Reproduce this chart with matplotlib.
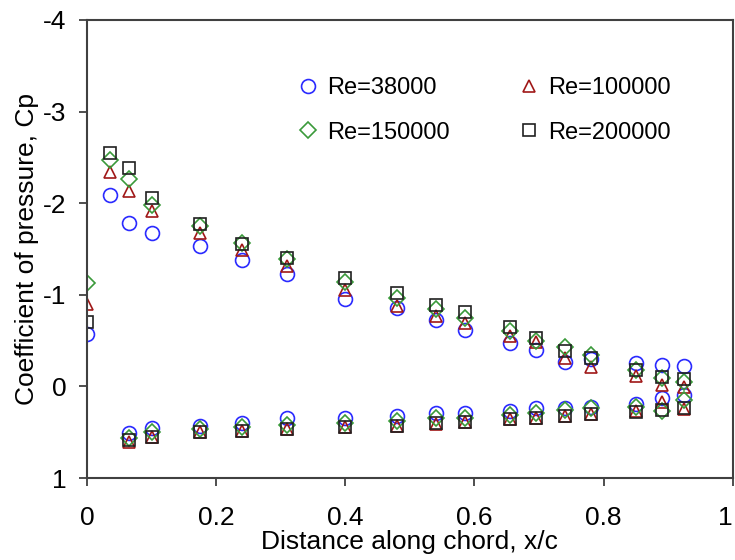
import matplotlib
matplotlib.use('Agg')
import matplotlib.pyplot as plt

plt.rcParams['font.family'] = ['Liberation Sans', 'DejaVu Sans']
plt.rcParams['axes.unicode_minus'] = False

# chordwise stations (upper surface includes the leading edge point)
x_upper = [0, 0.035, 0.065, 0.1, 0.175, 0.24, 0.31, 0.4, 0.48, 0.54, 0.585,
           0.655, 0.695, 0.74, 0.78, 0.85, 0.89, 0.925]
x_lower = [0.065, 0.1, 0.175, 0.24, 0.31, 0.4, 0.48, 0.54, 0.585,
           0.655, 0.695, 0.74, 0.78, 0.85, 0.89, 0.925]

# Re = 38000
cp38_up = [-0.57, -2.09, -1.78, -1.67, -1.53, -1.38, -1.23, -0.95, -0.86, -0.72, -0.62,
           -0.47, -0.40, -0.27, -0.30, -0.26, -0.23, -0.22]
cp38_lo = [0.51, 0.45, 0.43, 0.40, 0.35, 0.34, 0.32, 0.29, 0.29, 0.27, 0.24, 0.24,
           0.22, 0.19, 0.13, 0.09]
# Re = 100000
cp100_up = [-0.90, -2.34, -2.13, -1.92, -1.67, -1.49, -1.31, -1.05, -0.88, -0.77, -0.69,
            -0.55, -0.48, -0.31, -0.21, -0.11, -0.02, 0.01]
cp100_lo = [0.61, 0.55, 0.50, 0.49, 0.46, 0.44, 0.43, 0.41, 0.39, 0.36, 0.34, 0.32,
            0.30, 0.27, 0.17, 0.25]
# Re = 150000
cp150_up = [-1.13, -2.47, -2.26, -1.98, -1.75, -1.57, -1.39, -1.14, -0.96, -0.84, -0.75,
            -0.60, -0.50, -0.43, -0.34, -0.18, -0.09, -0.05]
cp150_lo = [0.56, 0.50, 0.47, 0.44, 0.42, 0.40, 0.38, 0.35, 0.34, 0.31, 0.29, 0.26,
            0.24, 0.22, 0.27, 0.15]
# Re = 200000
cp200_up = [-0.70, -2.55, -2.38, -2.06, -1.77, -1.55, -1.40, -1.18, -1.02, -0.89, -0.81,
            -0.65, -0.53, -0.39, -0.31, -0.18, -0.10, -0.08]
cp200_lo = [0.59, 0.55, 0.50, 0.49, 0.46, 0.44, 0.43, 0.40, 0.39, 0.36, 0.34, 0.32,
            0.30, 0.28, 0.26, 0.24]

x_ticks = [0, 0.2, 0.4, 0.6, 0.8, 1]
x_ticklabels = ['0', '0.2', '0.4', '0.6', '0.8', '1']
y_ticks = [-4, -3, -2, -1, 0, 1]

series = [
    ('Re=38000', cp38_up, cp38_lo, 'o', 10, '#2a2aff'),
    ('Re=100000', cp100_up, cp100_lo, '^', 9, '#a01818'),
    ('Re=150000', cp150_up, cp150_lo, 'D', 8, '#3a9a3a'),
    ('Re=200000', cp200_up, cp200_lo, 's', 8.5, '#202020'),
]

fig = plt.figure(figsize=(7.35, 5.6), dpi=100)
ax = fig.add_axes([0.1184, 0.1464, 0.8786, 0.8179])

handles = {}
for name, up, lo, mk, ms, col in series:
    h, = ax.plot(x_upper, up, linestyle='none', marker=mk, ms=ms, mfc='none',
                 mec=col, mew=1.2, label=name)
    ax.plot(x_lower, lo, linestyle='none', marker=mk, ms=ms, mfc='none',
            mec=col, mew=1.2)
    handles[name] = h

ax.set_xlim(0, 1)
ax.set_ylim(1, -4)
ax.set_xticks(x_ticks)
ax.set_xticklabels(x_ticklabels)
ax.set_yticks(y_ticks)
# last label sits at the figure edge, keep it inside
ax.get_xticklabels()[-1].set_horizontalalignment('right')

for s in ax.spines.values():
    s.set_color('#404040')
    s.set_linewidth(1.5)
ax.tick_params(direction='out', length=6, width=1.3, color='#404040',
               labelsize=19, top=False, right=False)
ax.tick_params(axis='x', pad=14)
ax.tick_params(axis='y', pad=9)

ax.set_xlabel('Distance along chord, x/c', fontsize=19, labelpad=0)
ax.set_ylabel('Coefficient of pressure, Cp', fontsize=19, labelpad=3)

order = ['Re=38000', 'Re=150000', 'Re=100000', 'Re=200000']
ax.legend([handles[k] for k in order], order, ncol=2, frameon=False,
          fontsize=17, loc='upper left', bbox_to_anchor=(0.3246, 0.875),
          borderpad=0, borderaxespad=0, handlelength=1.0, handletextpad=0.3,
          columnspacing=2.84, labelspacing=0.95)

fig.savefig('out.png', dpi=100)
